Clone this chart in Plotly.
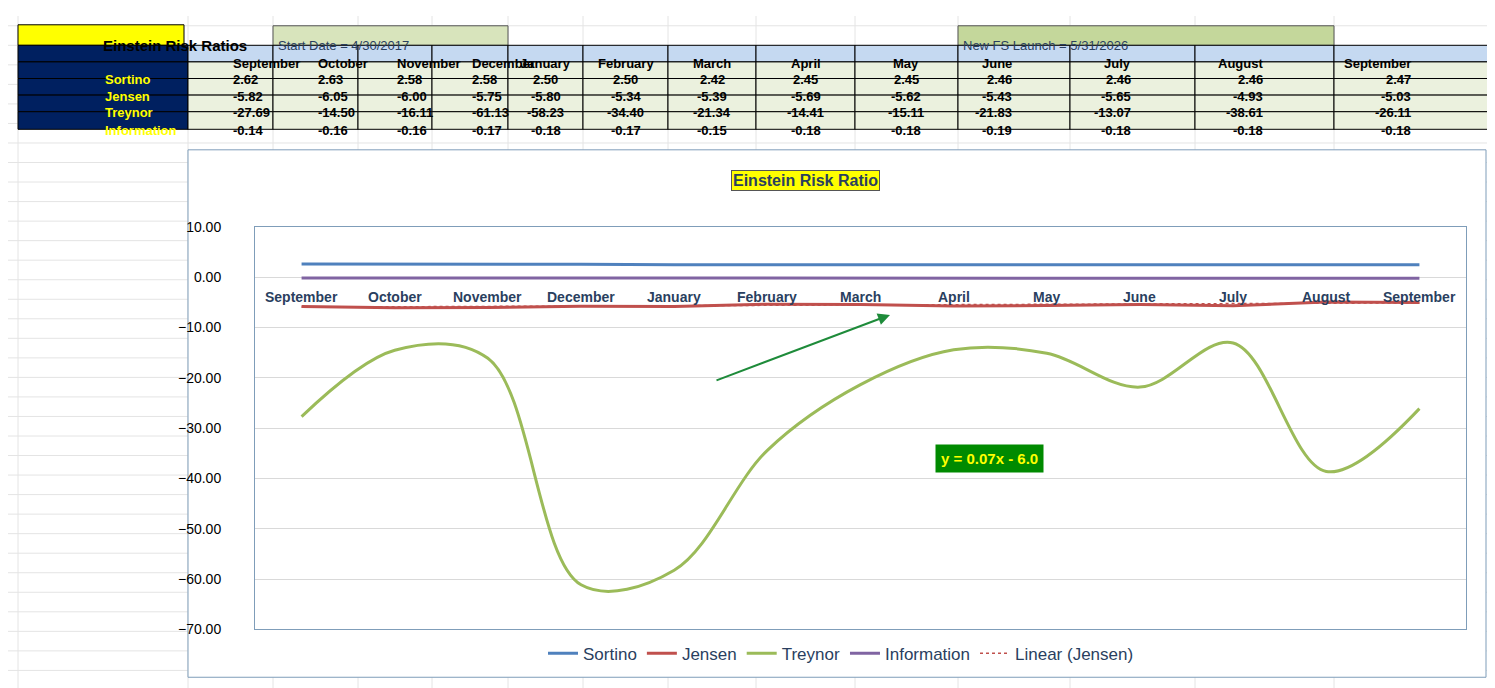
import numpy as np
import plotly.graph_objects as go

W, H = 1495, 688

months = ['September', 'October', 'November', 'December', 'January', 'February', 'March',
          'April', 'May', 'June', 'July', 'August', 'September']
sortino = [2.62, 2.63, 2.58, 2.58, 2.50, 2.50, 2.42, 2.45, 2.45, 2.46, 2.46, 2.46, 2.47]
jensen = [-5.82, -6.05, -6.00, -5.75, -5.80, -5.34, -5.39, -5.69, -5.62, -5.43, -5.65, -4.93, -5.03]
treynor = [-27.69, -14.50, -16.11, -61.13, -58.23, -34.40, -21.34, -14.41, -15.11, -21.83, -13.07, -38.61, -26.11]
information = [-0.14, -0.16, -0.16, -0.17, -0.18, -0.17, -0.15, -0.18, -0.18, -0.19, -0.18, -0.18, -0.18]
row_names = ['Sortino', 'Jensen', 'Treynor', 'Information']
trend_slope, trend_icept = 0.07, -6.0

col_edges = [10, 180, 265, 350, 424, 500, 575, 660, 748, 847, 950, 1062, 1187, 1326, 1483]
row_edges = [30, 47, 64, 81, 98, 116]


def px(x):
    return x / W


def py(y):
    return 1 - y / H


fig = go.Figure()
cats = list(range(len(months)))
fig.add_trace(go.Scatter(x=cats, y=sortino, mode='lines', name='Sortino', line=dict(color='#4F81BD', width=3)))
fig.add_trace(go.Scatter(x=cats, y=jensen, mode='lines', name='Jensen', line=dict(color='#C0504D', width=3)))
fig.add_trace(go.Scatter(x=cats, y=treynor, mode='lines', name='Treynor',
                         line=dict(color='#9BBB59', width=3, shape='spline', smoothing=1.0)))
fig.add_trace(go.Scatter(x=cats, y=information, mode='lines', name='Information', line=dict(color='#8064A2', width=3)))
trend = [trend_slope * (i + 1) + trend_icept for i in cats]
fig.add_trace(go.Scatter(x=cats, y=trend, mode='lines', name='Linear (Jensen)',
                         line=dict(color='#C0504D', width=1.5, dash='dot')))

shapes = []
ann = []

# faint spreadsheet grid
for y in range(10, H, 20):
    shapes.append(dict(type='line', xref='paper', yref='paper', x0=0, x1=1, y0=py(y), y1=py(y),
                       line=dict(color='#E4E4E4', width=1), layer='below'))
for x in col_edges:
    shapes.append(dict(type='line', xref='paper', yref='paper', x0=px(x), x1=px(x), y0=0, y1=1,
                       line=dict(color='#E4E4E4', width=1), layer='below'))


def cell(x0, x1, y0, y1, fill, text, color='black', size=13, bold=True, border='black'):
    shapes.append(dict(type='rect', xref='paper', yref='paper', x0=px(x0), x1=px(x1), y0=py(y1), y1=py(y0),
                       fillcolor=fill, line=dict(color=border, width=1), layer='below'))
    if text:
        ann.append(dict(xref='paper', yref='paper', x=px((x0 + x1) / 2), y=py((y0 + y1) / 2),
                        text='<b>%s</b>' % text if bold else text, showarrow=False,
                        font=dict(color=color, size=size, family='Arial')))


# title row
cell(10, 176, 9, 30, '#FFFF00', 'Einstein Risk Ratios', size=15)
cell(265, 500, 10, 30, '#D8E4BC', '', border='#555')
ann.append(dict(xref='paper', yref='paper', x=px(268), y=py(20), xanchor='left', text='Start Date = 4/30/2017',
                showarrow=False, font=dict(size=13, family='Arial')))
cell(950, 1326, 10, 30, '#C4D79B', '', border='#555')
ann.append(dict(xref='paper', yref='paper', x=px(953), y=py(20), xanchor='left', text='New FS Launch = 5/31/2026',
                showarrow=False, font=dict(size=13, family='Arial')))

# header and rows
cell(col_edges[0], col_edges[1], row_edges[0], row_edges[1], '#002060', '')
for j, m in enumerate(months):
    cell(col_edges[j + 1], col_edges[j + 2], row_edges[0], row_edges[1], '#C5D9F1', m)
for i, (name, vals) in enumerate(zip(row_names, [sortino, jensen, treynor, information])):
    cell(col_edges[0], col_edges[1], row_edges[i + 1], row_edges[i + 2], '#002060', name, color='#FFFF00')
    for j, v in enumerate(vals):
        cell(col_edges[j + 1], col_edges[j + 2], row_edges[i + 1], row_edges[i + 2], '#EBF1DE', '%.2f' % v)

# chart frame
shapes.append(dict(type='rect', xref='paper', yref='paper', x0=px(180), x1=px(1478), y0=py(677), y1=py(137),
                   fillcolor='white', line=dict(color='#7F9DB9', width=1), layer='below'))

# chart title
ann.append(dict(xref='paper', yref='paper', x=px(797), y=py(158), text='<b>Einstein Risk Ratio</b>', showarrow=False,
                bgcolor='#FFFF00', bordercolor='#555', borderwidth=1, font=dict(size=16, family='Arial')))
# equation
ann.append(dict(xref='paper', yref='paper', x=px(981), y=py(453), text='<b>y = 0.07x - 6.0</b>', showarrow=False,
                bgcolor='#008A00', borderpad=5, font=dict(size=15, color='#FFFF00', family='Arial')))
# arrow
ann.append(dict(xref='paper', yref='paper', x=px(882), y=py(306), ax=-175, ay=66,
                text='', showarrow=True, arrowhead=2, arrowsize=1.2, arrowwidth=2, arrowcolor='#1E8B3A'))
# category labels at zero line
for i, m in enumerate(months):
    ann.append(dict(xref='x', yref='y', x=i, y=0, yshift=-20, text='<b>%s</b>' % m, showarrow=False,
                    font=dict(size=14, family='Arial')))

fig.update_layout(
    width=W, height=H, margin=dict(l=0, r=0, t=0, b=0),
    paper_bgcolor='white', plot_bgcolor='rgba(0,0,0,0)',
    shapes=shapes, annotations=ann,
    xaxis=dict(domain=[px(247), px(1458)], range=[-0.5, 12.5], showticklabels=False, showgrid=False,
               zeroline=False, showline=True, mirror=True, linecolor='#7F9DB9'),
    yaxis=dict(domain=[py(628), py(216)], range=[-70, 10], dtick=10, tickformat='.2f', showgrid=True,
               gridcolor='#D9D9D9', zeroline=False, showline=True, mirror=True, linecolor='#7F9DB9',
               tickfont=dict(size=14, family='Arial', color='black'), ticks='', ticklabelstandoff=30),
    legend=dict(orientation='h', x=px(833), xanchor='center', y=py(653), yanchor='middle',
                font=dict(size=17, family='Arial'), bgcolor='rgba(0,0,0,0)'),
)

fig.write_html("out.html")
